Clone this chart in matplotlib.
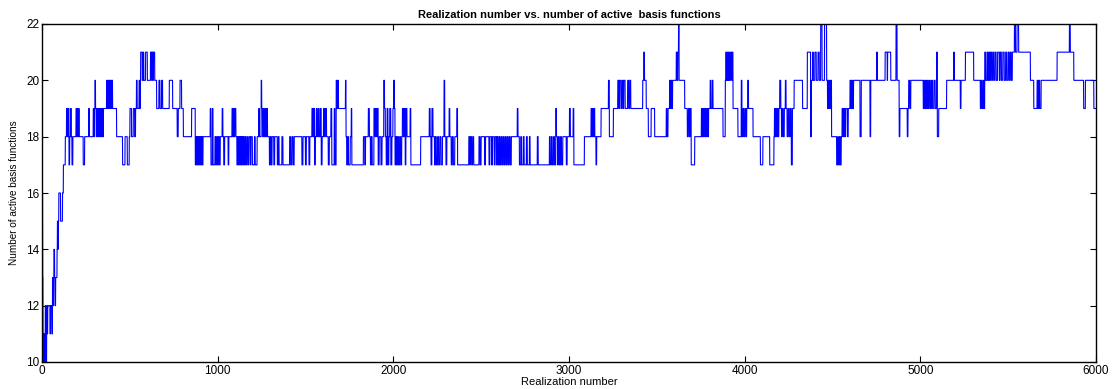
import numpy as np
import matplotlib
matplotlib.use("Agg")
import matplotlib.pyplot as plt

# Change points (realization number, number of active basis functions)
seg_a = [(0,20),(2,16),(4,13),(6,11),(8,10),(12,11),(15,10),(19,12),(22,10),(27,12),(30,11),(33,12),(46,11),(49,12),(57,11),(60,13),(64,12),(68,14),(72,13),(76,12),(78,13),(86,14),(88,15),(91,14),(93,15),(96,16),(106,15),(117,16),(122,17),(133,18),(140,19),(145,18),(150,19),(154,17),(158,18),(163,19),(167,18),(171,17),(176,18),(194,19),(198,18),(201,19),(206,18),(209,19),(212,18),(235,17),(243,18),(266,19),(270,18),(292,19),(296,18),(299,19),(302,20),(305,19),(309,18),(312,19),(316,18),(320,19),(324,18),(327,19),(331,18),(335,19),(339,18),(343,19),(347,18),(350,19),(368,20),(372,19),(376,20),(380,19),(384,20),(388,19),(391,20),(395,19),(398,20),(402,19),(425,18),(459,17),(473,18),(486,17),(497,18),(501,19),(510,18),(520,19),(528,18),(533,19),(538,20),(542,19),(553,20),(557,19),(560,20),(562,21),(571,20),(576,21),(580,20),(590,21),(600,20),(618,21),(624,20),(627,21),(632,20),(635,21),(642,20),(653,19),(666,20),(672,19),(681,20),(687,19),(725,20),(744,19),(770,18),(776,19),(786,20),(795,19),(805,18),(852,19)]
seg_b = [(873,17),(877,18),(881,17),(885,18),(889,17),(893,18),(897,17),(901,18),(905,17),(909,18),(913,17),(917,18),(958,19),(962,17),(970,19),(974,17),(985,18),(990,17),(995,18),(1000,17),(1005,18),(1010,17),(1015,18),(1026,19),(1030,18),(1035,17),(1040,18),(1060,17),(1064,18),(1082,19),(1086,18),(1090,19),(1094,18),(1098,19),(1104,18),(1110,17),(1114,18),(1118,17),(1122,18),(1126,17),(1130,18),(1134,17),(1138,18),(1142,17),(1146,18),(1150,17),(1155,18),(1160,17),(1166,18),(1172,17),(1178,18),(1186,17),(1190,18),(1198,17),(1210,18),(1214,17),(1225,18),(1234,19),(1238,18),(1248,20),(1251,19),(1256,18),(1262,19),(1266,18),(1272,19),(1276,18),(1280,19),(1284,18),(1295,17),(1300,18),(1305,17),(1310,18),(1320,17),(1325,18),(1340,17),(1346,18),(1350,17),(1366,18),(1372,17),(1410,18),(1416,17),(1423,18),(1430,17),(1436,18),(1480,17),(1486,18),(1500,17),(1505,18),(1520,17),(1525,18),(1537,19),(1542,18),(1547,19),(1552,17),(1556,18),(1562,19),(1567,18),(1573,19),(1578,18),(1585,19),(1590,17),(1595,18),(1603,19),(1608,18),(1614,19),(1620,18),(1630,17),(1636,18),(1645,19),(1650,17),(1664,19),(1668,17),(1675,20),(1678,19),(1684,20),(1688,19)]
seg_c = [(1728,20),(1731,18),(1735,17),(1740,18),(1745,17),(1755,18),(1761,19),(1764,17),(1830,18),(1838,17),(1842,18),(1858,19),(1864,18),(1870,17),(1875,18),(1880,17),(1890,19),(1896,18),(1900,19),(1904,18),(1910,19),(1914,17),(1920,18),(1930,17),(1936,18),(1946,20),(1950,19),(1955,18),(1960,17),(1965,19),(1970,17),(1975,18),(1980,19),(1986,17),(1992,18),(1998,19),(2002,20),(2006,19),(2010,17),(2015,18),(2020,17),(2025,18),(2030,17),(2036,18),(2042,17),(2048,18),(2052,19),(2058,18),(2062,19),(2068,17),(2072,19),(2078,18),(2096,19),(2100,17),(2156,18),(2205,19),(2210,18),(2215,17),(2220,19),(2226,18),(2235,17),(2240,18),(2245,17),(2252,18),(2258,17),(2265,18),(2272,17),(2280,18),(2289,20),(2293,18),(2300,17),(2305,18),(2318,19),(2322,18),(2330,17),(2336,18),(2342,17),(2350,18),(2362,19),(2366,17),(2430,18),(2436,17),(2440,18),(2446,17),(2452,18),(2458,17),(2488,18),(2494,17),(2500,18),(2520,17),(2525,18),(2545,17),(2550,18),(2560,17),(2565,18),(2575,17),(2580,18)]
seg_d = [(2588,17),(2592,18),(2596,17),(2602,18),(2606,17),(2612,18),(2618,17),(2624,18),(2630,17),(2636,18),(2642,17),(2648,18),(2654,17),(2660,18),(2666,17),(2672,18),(2706,19),(2710,18),(2718,17),(2726,18),(2730,17),(2740,18),(2745,17),(2758,18),(2763,17),(2775,18),(2779,17),(2820,18),(2825,17),(2889,18),(2893,17),(2900,18),(2905,17),(2912,18),(2918,17),(2925,19),(2929,18),(2935,17),(2940,18),(2946,17),(2952,18),(2958,17),(2965,18),(2985,17),(2990,18),(3003,19),(3008,18),(3024,19),(3028,17),(3088,18),(3126,19),(3130,18),(3134,19),(3138,18),(3142,19),(3147,18),(3154,17),(3158,18),(3183,19),(3225,20),(3230,18),(3253,19),(3278,20),(3284,19),(3288,20),(3296,19),(3302,20),(3308,19),(3312,20),(3320,19),(3334,20),(3340,19),(3346,20),(3352,19),(3420,20),(3426,21),(3430,20),(3440,19)]
seg_e = [(3452,18),(3468,19),(3488,18),(3554,19),(3558,18),(3564,19),(3573,20),(3577,19),(3581,20),(3585,19),(3590,20),(3611,21),(3616,20),(3620,21),(3624,22),(3627,20),(3659,19),(3674,18),(3680,19),(3686,18),(3690,19),(3696,17),(3716,18),(3754,19),(3758,18),(3762,19),(3766,18),(3770,19),(3774,18),(3778,19),(3782,18),(3786,19),(3790,18),(3795,19),(3804,20),(3808,19),(3816,20),(3820,19),(3877,18),(3890,20),(3893,21),(3897,20),(3902,21),(3906,20),(3910,21),(3914,20),(3920,21),(3926,20),(3930,21),(3934,19),(3962,18),(3981,20),(3985,18),(3991,19),(3996,18),(4002,19),(4008,18),(4012,19),(4018,20),(4022,19),(4048,18),(4090,17),(4104,18),(4143,17),(4167,18),(4170,19),(4174,18),(4178,19),(4182,18),(4186,19),(4190,18),(4195,19),(4200,20),(4206,19),(4210,18),(4214,19),(4220,18),(4226,19),(4232,20),(4236,19),(4242,18),(4248,19),(4254,18),(4260,19),(4266,17),(4272,19),(4282,20)]
seg_f = [(4330,19),(4357,21),(4376,18),(4380,20),(4387,21),(4391,20),(4400,21),(4408,20),(4418,21),(4425,20),(4433,22),(4441,20),(4455,22),(4467,20),(4472,19),(4476,20),(4480,19),(4484,20),(4488,19),(4492,20),(4495,18),(4524,17),(4530,18),(4534,17),(4540,18),(4545,17),(4550,18),(4555,19),(4560,18),(4565,19),(4570,18),(4575,19),(4585,18),(4590,19),(4600,20),(4605,19),(4610,20),(4615,19),(4620,20),(4657,18),(4664,20),(4714,18),(4718,20),(4752,21),(4756,20),(4800,21),(4812,20),(4814,21),(4832,20),(4862,22),(4868,20),(4880,18),(4884,19),(4926,18),(4930,19),(4934,20),(4940,19),(4946,20),(5017,19),(5022,20),(5026,19),(5031,20),(5036,19),(5041,20),(5046,19),(5052,20),(5058,19),(5064,20),(5070,19),(5078,20),(5085,19),(5093,21),(5097,18),(5105,19),(5150,20)]
seg_g = [(5190,21),(5194,20),(5228,19),(5232,20),(5257,21),(5304,20),(5342,19),(5347,20),(5352,19),(5358,20),(5362,19),(5367,21),(5372,20),(5380,21),(5385,20),(5390,21),(5395,20),(5400,21),(5406,20),(5412,21),(5418,20),(5425,21),(5432,20),(5440,21),(5450,20),(5455,21),(5462,20),(5470,21),(5478,20),(5486,21),(5492,20),(5500,21),(5506,20),(5512,21),(5518,20),(5524,21),(5536,22),(5542,21),(5551,22),(5560,21),(5627,20),(5646,19),(5665,20),(5670,19),(5675,20),(5680,19),(5688,20),(5779,21),(5849,22),(5854,21),(5874,20),(5930,19),(5940,20),(5988,19)]

n_realizations = 6000
x_ticks = [0, 1000, 2000, 3000, 4000, 5000, 6000]
y_ticks = [10, 12, 14, 16, 18, 20, 22]

segments = seg_a + seg_b + seg_c + seg_d + seg_e + seg_f + seg_g
cp_iter = np.array([s[0] for s in segments])
cp_val = np.array([s[1] for s in segments])
realization = np.arange(1, n_realizations + 1)
active = cp_val[np.searchsorted(cp_iter, realization, side="right") - 1]

plt.rcParams["font.family"] = ["Liberation Sans", "DejaVu Sans"]
fig = plt.figure(figsize=(11.14, 3.89), dpi=100)
ax = fig.add_axes([42/1114, 1 - 362/389, (1096-42)/1114, (362-24)/389])
ax.plot(realization, active, color=(0, 0, 1), linewidth=0.8)
ax.set_xlim(0, 6000)
ax.set_ylim(10, 22)
ax.set_xticks(x_ticks)
ax.set_yticks(y_ticks)
ax.tick_params(direction="in", top=True, right=True, length=4, width=0.8,
               labelsize=8.5, pad=2)
for sp in ax.spines.values():
    sp.set_linewidth(1.0)
ax.set_title("Realization number vs. number of active  basis functions",
             fontsize=8, fontweight="bold", pad=4)
ax.set_xlabel("Realization number", fontsize=8, labelpad=0)
ax.set_ylabel("Number of active basis functions", fontsize=7.2, labelpad=5)
fig.savefig("out.png", dpi=100)
